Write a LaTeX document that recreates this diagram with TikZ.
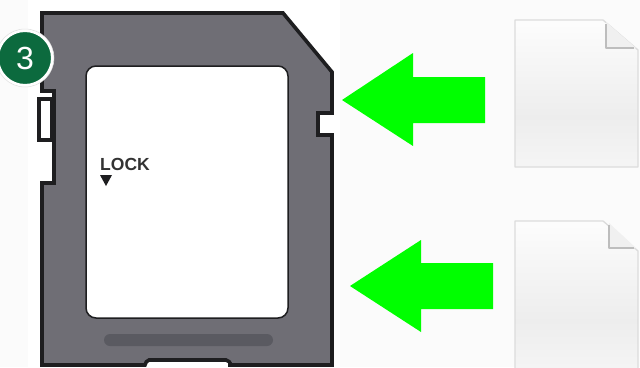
\documentclass[tikz,border=0pt]{standalone}
\usepackage{fontspec}
\setmainfont{Liberation Sans}
\definecolor{bgc}{HTML}{FBFBFB}
\definecolor{cardc}{HTML}{6F6E75}
\definecolor{edgec}{HTML}{1E1E20}
\definecolor{barc}{HTML}{5A5A61}
\definecolor{badgec}{HTML}{0C6A3E}
\definecolor{arrowc}{HTML}{00FF00}
\definecolor{pagee}{HTML}{DCDCDC}
\definecolor{pagef}{HTML}{BDBDBD}
\definecolor{foldc}{HTML}{F0F0F0}
\pgfdeclareverticalshading{pageshade}{100bp}{
  color(0bp)=(white!96!black);
  color(25bp)=(white!96!black);
  color(42bp)=(white!93!black);
  color(75bp)=(white!99!black);
  color(100bp)=(white!99!black)}
\tikzset{
  cardshape/.style={fill=cardc,draw=edgec,line width=3.6pt,line join=miter},
  bigarrow/.style={fill=arrowc,draw=none},
  pagesheet/.style={shading=pageshade,draw=pagee,line width=1.3pt,line join=round},
  pagefold/.style={fill=foldc,draw=none},
  foldline/.style={draw=pagef,line width=1.6pt,line join=round},
}
\begin{document}
\begin{tikzpicture}[x=1pt,y=-1pt]
\useasboundingbox (0,0) rectangle (640,367);
\fill[bgc] (0,0) rectangle (640,367);
\fill[white] (28,0) rectangle (340,367);
% card
\draw[cardshape] (42,13) -- (283,13) -- (332,72) -- (332,113) -- (318,113) -- (318,135) -- (332,135) -- (332,365)
  -- (230,365) -- (230,363) [rounded corners=2pt] -- (228,360) -- (147,360) [sharp corners] -- (145,365) -- (42,365)
  -- (42,183) -- (54,183) -- (54,91) -- (42,91) -- cycle;
% write-protect switch
\draw[fill=white,draw=edgec,line width=3.6pt] (39,99) rectangle (52,140);
% label area
\fill[white,draw=edgec,line width=1.5pt,rounded corners=10pt] (86,66) rectangle (288,318);
% grip bar
\fill[barc,rounded corners=6pt] (104,334) rectangle (273,346);
% lock label
\node[font=\bfseries\fontsize{17.5}{17.5}\selectfont,text=black!80,inner sep=0pt,anchor=west] (locklabel) at (100,164) {LOCK};
\fill[edgec] (100,175) -- (112,175) -- (106,186) -- cycle;
% badge
\node[circle,fill=badgec,draw=white,line width=3pt,minimum size=55pt,inner sep=0pt,text=white,font=\fontsize{32}{32}\selectfont] (badge) at (25,58) {3};
\draw[black!12,line width=0.5pt] (25,58) circle (29pt);
% arrows
\fill[bigarrow] (342,100) -- (413,53) -- (413,77) -- (485,77) -- (485,123) -- (413,123) -- (413,146) -- cycle;
\fill[bigarrow] (350,286) -- (421,240) -- (421,263) -- (493,263) -- (493,309) -- (421,309) -- (421,332) -- cycle;
% page 1
\draw[pagesheet] (515,20) -- (603,20) -- (638,50) -- (638,167) -- (515,167) -- cycle;
\fill[pagefold] (606,22) -- (606,48) -- (636,48) -- cycle;
\draw[foldline] (606,24) -- (606,48) -- (634,48);
% page 2
\draw[pagesheet] (515,221) -- (603,221) -- (638,251) -- (638,372) -- (515,372) -- cycle;
\fill[pagefold] (609,223) -- (609,248) -- (636,248) -- cycle;
\draw[foldline] (609,225) -- (609,248) -- (634,248);
\end{tikzpicture}
\end{document}
